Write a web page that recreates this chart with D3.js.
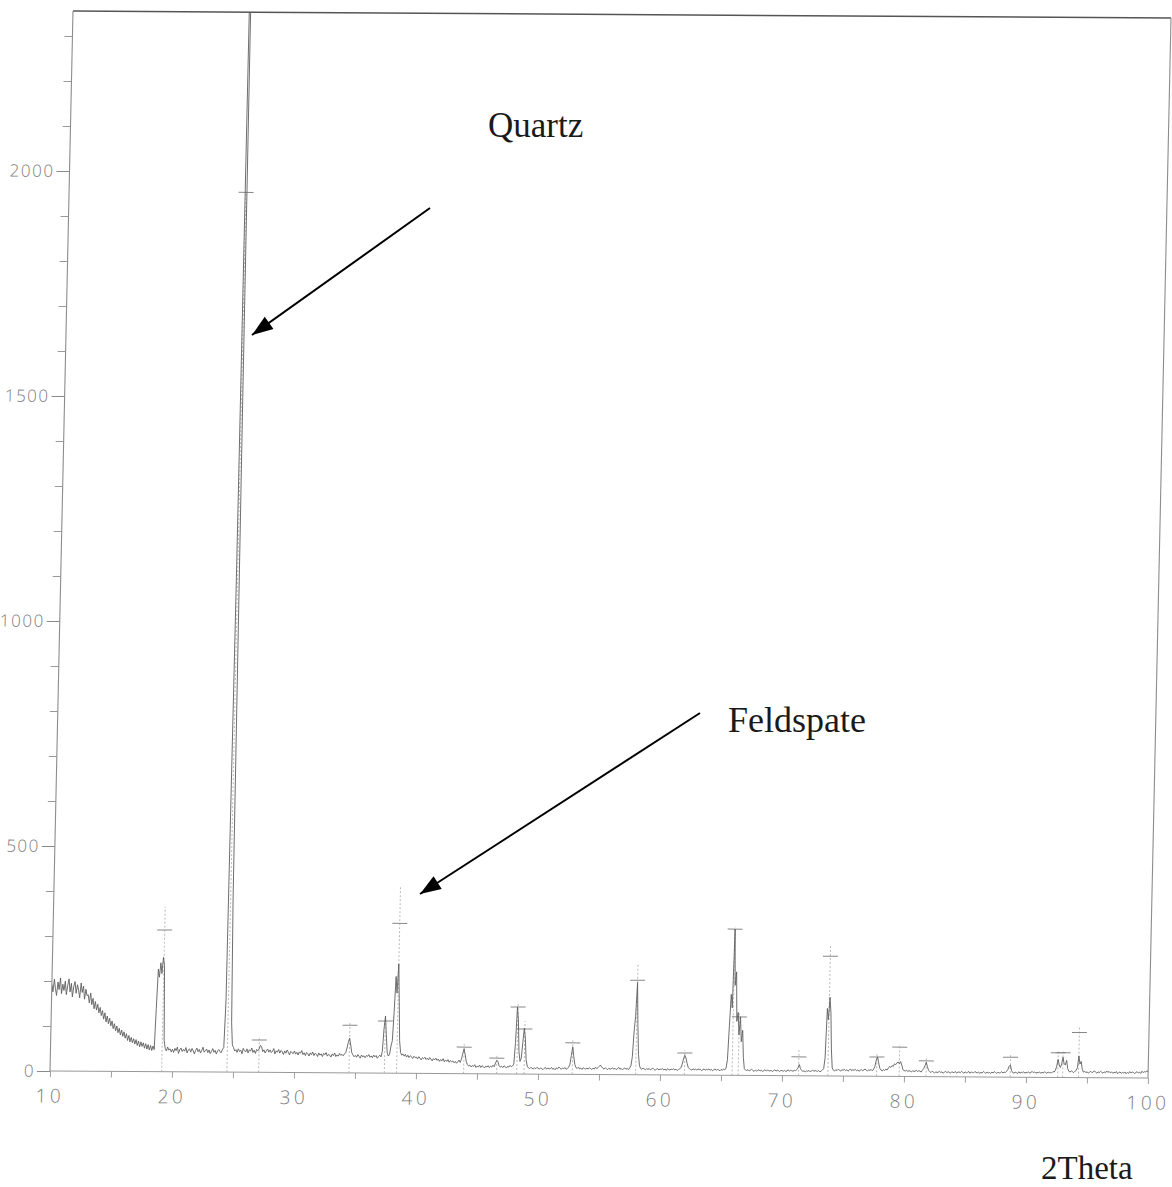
<!DOCTYPE html>
<html>
<head>
<meta charset="utf-8">
<script src="https://d3js.org/d3.v7.min.js"></script>
<style>
    body { margin: 0; background: #fff; }
    svg { display: block; background: #fff; }
    .axis-label { font-family: "Open Sans", sans-serif; font-weight: 300; font-size: 19px; fill: #7c7c7c; letter-spacing: 3.5px; }
    .y-label { font-family: "Open Sans", sans-serif; font-weight: 300; font-size: 17px; fill: #7c7c7c; letter-spacing: 1.5px; }
    .note { font-family: "Liberation Serif", "Times New Roman", serif; fill: #1a1a1a; }
</style>
</head>
<body>
<div id="chart"></div>
<script>

// scan grid (degrees 2theta)
const thetaStart = 10;
const thetaStep = 0.1;

// intensity counts, one row per degree (10.0 .. 10.9, 11.0 ...)
const countRows = [
    [192, 176, 204, 183, 168, 198, 181, 207, 172, 193],
    [179, 200, 170, 190, 205, 176, 195, 165, 188, 199],
    [173, 192, 180, 163, 196, 175, 189, 160, 182, 168],
    [170, 152, 174, 148, 162, 139, 155, 136, 149, 130],
    [142, 124, 135, 116, 130, 110, 123, 106, 118, 101],
    [112, 95, 106, 90, 101, 86, 96, 81, 92, 78],
    [88, 74, 84, 69, 80, 66, 76, 64, 73, 61],
    [71, 58, 68, 55, 66, 56, 64, 52, 62, 50],
    [60, 48, 58, 47, 57, 49, 140, 228, 210, 242],
    [218, 254, 236, 70, 52, 46, 55, 48, 51, 44],
    [50, 43, 52, 47, 55, 41, 49, 53, 45, 50],
    [46, 54, 42, 49, 51, 44, 52, 47, 40, 48],
    [53, 45, 50, 42, 48, 55, 44, 47, 51, 43],
    [49, 41, 46, 52, 44, 48, 40, 47, 50, 45],
    [43, 51, 54, 160, 1100, 3600, 1500, 380, 110, 60],
    [55, 47, 50, 44, 52, 46, 49, 41, 53, 48],
    [45, 52, 43, 50, 47, 54, 44, 49, 42, 51],
    [48, 52, 60, 57, 46, 50, 43, 48, 52, 45],
    [50, 44, 47, 53, 41, 48, 45, 51, 43, 49],
    [46, 40, 48, 43, 50, 45, 39, 47, 44, 42],
    [48, 41, 45, 39, 46, 43, 49, 40, 44, 38],
    [45, 42, 37, 44, 40, 46, 38, 43, 41, 36],
    [44, 39, 42, 36, 43, 40, 45, 37, 41, 39],
    [35, 42, 38, 44, 36, 40, 37, 43, 39, 41],
    [38, 42, 45, 55, 68, 77, 62, 45, 40, 36],
    [39, 35, 41, 37, 33, 40, 36, 38, 34, 39],
    [37, 41, 35, 38, 34, 40, 36, 39, 33, 37],
    [40, 36, 48, 98, 127, 85, 46, 38, 42, 60],
    [72, 135, 215, 178, 243, 160, 72, 46, 40, 43],
    [38, 42, 36, 40, 35, 39, 37, 33, 38, 35],
    [36, 32, 37, 34, 30, 35, 33, 36, 31, 34],
    [30, 35, 32, 28, 33, 30, 34, 29, 32, 27],
    [31, 28, 33, 26, 30, 27, 31, 25, 29, 26],
    [28, 24, 27, 23, 26, 30, 25, 32, 45, 55],
    [42, 27, 20, 17, 19, 15, 18, 16, 20, 14],
    [17, 15, 19, 14, 18, 16, 13, 17, 15, 18],
    [14, 17, 15, 19, 16, 24, 30, 27, 18, 15],
    [17, 14, 18, 16, 13, 17, 15, 19, 16, 18],
    [22, 70, 149, 120, 50, 28, 35, 70, 102, 80],
    [32, 18, 14, 12, 15, 13, 11, 14, 12, 15],
    [13, 11, 14, 12, 10, 13, 15, 11, 14, 12],
    [12, 15, 11, 13, 10, 14, 12, 16, 13, 11],
    [14, 12, 15, 11, 13, 16, 22, 42, 61, 40],
    [22, 15, 13, 16, 12, 14, 11, 15, 13, 12],
    [14, 12, 15, 13, 11, 14, 12, 16, 13, 15],
    [18, 21, 17, 14, 12, 15, 13, 11, 14, 12],
    [13, 15, 12, 14, 11, 13, 16, 12, 14, 11],
    [13, 15, 12, 14, 11, 15, 20, 40, 95, 130],
    [205, 110, 45, 20, 14, 12, 15, 13, 11, 14],
    [12, 14, 11, 13, 15, 12, 10, 13, 14, 11],
    [13, 12, 14, 11, 13, 10, 14, 12, 11, 13],
    [12, 14, 11, 13, 10, 12, 14, 16, 24, 36],
    [44, 38, 26, 17, 14, 12, 11, 14, 12, 13],
    [11, 14, 12, 13, 10, 12, 14, 11, 13, 12],
    [14, 11, 13, 10, 12, 14, 11, 13, 12, 10],
    [13, 11, 14, 12, 16, 35, 110, 180, 150, 325],
    [200, 230, 120, 140, 90, 130, 75, 100, 40, 15],
    [12, 11, 13, 10, 12, 14, 11, 9, 12, 10],
    [11, 13, 10, 12, 9, 11, 13, 10, 12, 11],
    [10, 12, 9, 11, 13, 10, 12, 11, 9, 12],
    [11, 10, 12, 9, 11, 13, 10, 12, 11, 10],
    [12, 11, 14, 18, 25, 16, 12, 10, 11, 9],
    [11, 10, 12, 9, 11, 13, 10, 12, 11, 10],
    [12, 9, 11, 13, 16, 40, 150, 125, 175, 140],
    [60, 18, 13, 11, 14, 12, 15, 13, 11, 14],
    [13, 15, 12, 14, 11, 13, 16, 12, 14, 13],
    [15, 12, 14, 11, 13, 15, 12, 14, 16, 13],
    [12, 14, 13, 15, 12, 16, 22, 36, 43, 30],
    [18, 14, 12, 15, 13, 16, 14, 18, 22, 20],
    [24, 22, 28, 26, 30, 32, 28, 33, 25, 15],
    [13, 12, 14, 11, 13, 12, 10, 13, 11, 12],
    [14, 11, 13, 12, 10, 14, 18, 24, 32, 22],
    [14, 11, 9, 12, 10, 8, 11, 9, 10, 12],
    [9, 11, 8, 10, 12, 9, 11, 10, 8, 11],
    [10, 9, 12, 8, 10, 11, 9, 12, 10, 8],
    [11, 9, 10, 12, 8, 11, 10, 9, 12, 10],
    [9, 11, 8, 10, 9, 12, 10, 8, 11, 9],
    [10, 8, 11, 9, 12, 10, 8, 11, 9, 10],
    [12, 9, 11, 10, 13, 17, 24, 27, 15, 10],
    [9, 11, 10, 8, 12, 9, 11, 10, 12, 9],
    [11, 10, 12, 9, 11, 13, 10, 12, 9, 11],
    [10, 12, 9, 11, 10, 12, 11, 9, 12, 10],
    [11, 10, 13, 12, 16, 25, 40, 28, 22, 30],
    [45, 30, 28, 38, 20, 14, 12, 15, 13, 11],
    [14, 16, 22, 48, 30, 36, 18, 12, 14, 11],
    [13, 10, 12, 14, 11, 13, 15, 12, 10, 13],
    [11, 14, 12, 10, 13, 11, 15, 12, 14, 11],
    [13, 10, 12, 11, 14, 9, 12, 13, 10, 12],
    [11, 13, 9, 12, 10, 14, 11, 13, 12, 10],
    [12, 14, 11, 13, 10, 15, 12, 14, 13, 16],
    [14]
];

// peak search markers ("+" ticks): position, dash height, top of the dotted line
const peakTheta = [19.15, 24.5, 27.1, 34.5, 37.4, 38.4, 43.9, 46.6, 48.25, 48.85, 52.8, 58.0,
                   62.0, 65.9, 66.4, 71.35, 73.75, 77.75, 79.6, 81.8, 88.7, 92.6, 93.0, 94.3];
const peakMark  = [315, 1955, 72, 106, 116, 333, 59, 35, 149, 100, 70, 210,
                   49, 325, 130, 42, 266, 43, 65, 35, 44, 55, 55, 100];
const peakTop   = [366, 1955, 80, 112, 124, 413, 66, 42, 156, 118, 78, 248,
                   55, 330, 140, 57, 290, 50, 72, 40, 50, 60, 60, 112];

// axis ticks
const yMajorTicks = [0, 500, 1000, 1500, 2000];
const yMinorTicks = [100, 200, 300, 400, 600, 700, 800, 900, 1100, 1200, 1300, 1400,
                     1600, 1700, 1800, 1900, 2100, 2200, 2300];
const xTicks = [10, 15, 20, 25, 30, 35, 40, 45, 50, 55, 60, 65, 70, 75, 80, 85, 90, 95, 100];
const xLabels = [10, 20, 30, 40, 50, 60, 70, 80, 90, 100];


class XrdVis {

    constructor(parentElement){
        this.parentElement = parentElement;
        this.initVis();
    }

    initVis(){
        let vis = this;

        vis.width = 1098;
        vis.height = 1060;

        vis.svg = d3.select("#" + vis.parentElement).append("svg")
            .attr("width", 1172)
            .attr("height", 1187);

        // the paper was scanned a little crooked -> rotate/shear the plot box
        vis.plot = vis.svg.append("g")
            .attr("transform", "matrix(1, 0.00638, -0.0217, 1, 73, 11)");

        vis.x = d3.scaleLinear()
            .domain([10, 100])
            .range([0, vis.width]);

        vis.y = d3.scaleLinear()
            .domain([0, 2355.6])
            .range([vis.height, 0]);

        vis.plot.append("clipPath")
            .attr("id", "plot-clip")
            .append("rect")
            .attr("width", vis.width)
            .attr("height", vis.height);

        vis.wrangleData();
    }

    wrangleData(){
        let vis = this;

        let counts = countRows.flat();
        vis.scan = counts.map((c, i) => ({
            theta: +(thetaStart + i * thetaStep).toFixed(1),
            count: c
        }));

        vis.peaks = peakTheta.map((t, i) => ({theta: t, mark: peakMark[i], top: peakTop[i]}));

        vis.updateVis();
    }

    updateVis(){
        let vis = this;

        // y axis, big and small ticks (labels kept short so they stay on the page)
        let yMajor = vis.plot.append("g")
            .call(d3.axisLeft(vis.y).tickValues(yMajorTicks).tickSize(13).tickPadding(2)
                .tickFormat(d3.format("d")));
        yMajor.select(".domain").remove();
        yMajor.selectAll("line").attr("stroke", "#8a8a8a");
        yMajor.selectAll("text").attr("class", "y-label").attr("font-size", null).attr("font-family", null);

        let yMinor = vis.plot.append("g")
            .call(d3.axisLeft(vis.y).tickValues(yMinorTicks).tickSize(8).tickFormat(""));
        yMinor.select(".domain").remove();
        yMinor.selectAll("line").attr("stroke", "#9a9a9a");

        // x axis
        let xAxis = vis.plot.append("g")
            .attr("transform", `translate(0, ${vis.height})`)
            .call(d3.axisBottom(vis.x).tickValues(xTicks).tickSize(6).tickPadding(12)
                .tickFormat(d => xLabels.includes(d) ? d : ""));
        xAxis.select(".domain").remove();
        xAxis.selectAll("line").attr("stroke", "#a0a0a0");
        xAxis.selectAll("text").attr("class", "axis-label").attr("font-size", null).attr("font-family", null);

        // frame
        let frame = vis.plot.append("g").attr("fill", "none");
        frame.append("line")
            .attr("x1", 0).attr("x2", vis.width).attr("y1", 0).attr("y2", 0)
            .attr("stroke", "#555").attr("stroke-width", 1.5);
        frame.append("line")
            .attr("x1", vis.width).attr("x2", vis.width).attr("y1", 0).attr("y2", vis.height)
            .attr("stroke", "#8c8c8c").attr("stroke-width", 1.1);
        frame.append("line")
            .attr("x1", 0).attr("x2", 0).attr("y1", 0).attr("y2", vis.height)
            .attr("stroke", "#8c8c8c").attr("stroke-width", 1.1);
        frame.append("line")
            .attr("x1", 0).attr("x2", vis.width).attr("y1", vis.height).attr("y2", vis.height)
            .attr("stroke", "#999").attr("stroke-width", 1);

        // peak markers
        let marks = vis.plot.append("g").attr("clip-path", "url(#plot-clip)");
        marks.selectAll(".peak-stem")
            .data(vis.peaks)
            .enter().append("line")
            .attr("class", "peak-stem")
            .attr("x1", d => vis.x(d.theta)).attr("x2", d => vis.x(d.theta))
            .attr("y1", vis.y(0)).attr("y2", d => vis.y(d.top))
            .attr("stroke", "#a8a8a8")
            .attr("stroke-width", 0.8)
            .attr("stroke-dasharray", "2,2");
        marks.selectAll(".peak-dash")
            .data(vis.peaks)
            .enter().append("line")
            .attr("class", "peak-dash")
            .attr("x1", d => vis.x(d.theta) - 7.5).attr("x2", d => vis.x(d.theta) + 7.5)
            .attr("y1", d => vis.y(d.mark)).attr("y2", d => vis.y(d.mark))
            .attr("stroke", "#888")
            .attr("stroke-width", 1);

        // the scan itself
        let line = d3.line()
            .x(d => vis.x(d.theta))
            .y(d => vis.y(d.count));

        vis.plot.append("path")
            .datum(vis.scan)
            .attr("clip-path", "url(#plot-clip)")
            .attr("d", line)
            .attr("fill", "none")
            .attr("stroke", "#5f5f5f")
            .attr("stroke-width", 0.9)
            .attr("stroke-linejoin", "round");

        // annotations typed on top of the print
        let defs = vis.svg.append("defs");
        defs.append("marker")
            .attr("id", "arrow-head")
            .attr("markerUnits", "userSpaceOnUse")
            .attr("viewBox", "-22 -9 24 18")
            .attr("refX", 0).attr("refY", 0)
            .attr("markerWidth", 24).attr("markerHeight", 18)
            .attr("orient", "auto")
            .append("path")
            .attr("d", "M0,0 L-21,-7.5 L-21,7.5 Z")
            .attr("fill", "#000");

        vis.svg.append("line")
            .attr("x1", 430).attr("y1", 208).attr("x2", 252).attr("y2", 335)
            .attr("stroke", "#000").attr("stroke-width", 2)
            .attr("marker-end", "url(#arrow-head)");

        vis.svg.append("line")
            .attr("x1", 700).attr("y1", 713).attr("x2", 420).attr("y2", 894)
            .attr("stroke", "#000").attr("stroke-width", 2)
            .attr("marker-end", "url(#arrow-head)");

        vis.svg.append("text")
            .attr("class", "note")
            .attr("x", 488).attr("y", 137)
            .style("font-size", "35px")
            .text("Quartz");

        vis.svg.append("text")
            .attr("class", "note")
            .attr("x", 728).attr("y", 732)
            .style("font-size", "36px")
            .text("Feldspate");

        vis.svg.append("text")
            .attr("class", "note")
            .attr("x", 1041).attr("y", 1179)
            .style("font-size", "33px")
            .text("2Theta");
    }
}

let myXrdVis = new XrdVis("chart");

</script>
</body>
</html>
